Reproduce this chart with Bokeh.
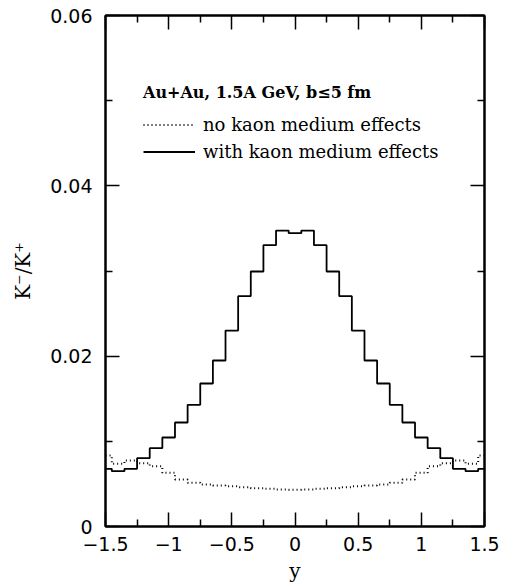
from bokeh.plotting import figure
from bokeh.models import Range1d, FixedTicker, LinearAxis, Legend, CustomLabelingPolicy
from bokeh.embed import file_html
from bokeh.resources import INLINE

# bin centres (rapidity y)
y_bins = [-1.5, -1.4, -1.3, -1.2, -1.1, -1.0, -0.9, -0.8, -0.7, -0.6, -0.5,
          -0.4, -0.3, -0.2, -0.1, 0.0, 0.1, 0.2, 0.3, 0.4, 0.5,
          0.6, 0.7, 0.8, 0.9, 1.0, 1.1, 1.2, 1.3, 1.4, 1.5]

# K-/K+ without kaon medium effects (dotted)
ratio_no_medium = [0.00834, 0.00736, 0.00775, 0.00744, 0.00708, 0.00630, 0.00552,
                   0.00513, 0.00493, 0.00481, 0.00473, 0.00462, 0.00450, 0.00442,
                   0.00434, 0.00431, 0.00434, 0.00442, 0.00450, 0.00462, 0.00473,
                   0.00481, 0.00493, 0.00513, 0.00552, 0.00630, 0.00708, 0.00744,
                   0.00775, 0.00736, 0.00834]

# K-/K+ with kaon medium effects (solid)
ratio_medium = [0.00677, 0.00650, 0.00677, 0.00802, 0.00920, 0.01045, 0.01221,
                0.01429, 0.01679, 0.01949, 0.02301, 0.02704, 0.02994, 0.03303,
                0.03475, 0.03444, 0.03475, 0.03303, 0.02994, 0.02704, 0.02301,
                0.01949, 0.01679, 0.01429, 0.01221, 0.01045, 0.00920, 0.00802,
                0.00677, 0.00650, 0.00677]

x_major = [-1.5, -1.0, -0.5, 0.0, 0.5, 1.0, 1.5]
x_minor = [-1.25, -0.75, -0.25, 0.25, 0.75, 1.25]
y_major = [0.0, 0.02, 0.04, 0.06]
y_minor = [0.01, 0.03, 0.05]
x_label_map = {-1.5: "\u22121.5", -1.0: "\u22121", -0.5: "\u22120.5", 0.0: "0",
               0.5: "0.5", 1.0: "1", 1.5: "1.5"}
y_label_map = {0.0: "0", 0.02: "0.02", 0.04: "0.04", 0.06: "0.06"}

TICK_FONT = "DejaVu Sans"
TEXT_FONT = "DejaVu Serif"

p = figure(width=508, height=586, output_backend="svg", toolbar_location=None,
           x_range=Range1d(-1.5, 1.5), y_range=Range1d(0, 0.06),
           x_axis_location=None, y_axis_location=None,
           min_border_left=105, min_border_right=15, min_border_top=15, min_border_bottom=60)
p.grid.visible = False
p.outline_line_color = "black"
p.outline_line_width = 2
p.background_fill_color = "white"
p.border_fill_color = "white"

no_labels = CustomLabelingPolicy(code="""
const all = [...indices]
for (const i of all) { indices.unset(i) }
return indices
""")


def make_axis(ticks, minor, labels, show_labels, axis_label=None):
    ax = LinearAxis(ticker=FixedTicker(ticks=ticks, minor_ticks=minor))
    ax.major_tick_in = 14
    ax.major_tick_out = 0
    ax.minor_tick_in = 7
    ax.minor_tick_out = 0
    ax.major_tick_line_width = 1.5
    ax.minor_tick_line_width = 1.5
    ax.axis_line_width = 2
    if show_labels:
        ax.major_label_overrides = labels
        ax.major_label_text_font = TICK_FONT
        ax.major_label_text_font_size = "19px"
        ax.major_label_text_color = "black"
    else:
        ax.major_label_policy = no_labels
        ax.major_label_standoff = 0
    if axis_label:
        ax.axis_label = axis_label
        ax.axis_label_text_font = TEXT_FONT
        ax.axis_label_text_font_size = "20px"
        ax.axis_label_text_font_style = "normal"
        ax.axis_label_text_color = "black"
    return ax


xb = make_axis(x_major, x_minor, x_label_map, True, "y")
xb.major_label_standoff = 10
xb.axis_label_standoff = 5
xt = make_axis(x_major, x_minor, x_label_map, False)
yl = make_axis(y_major, y_minor, y_label_map, True, "K\u207b/K\u207a")
yl.major_label_standoff = 13
yl.axis_label_standoff = 12
yr = make_axis(y_major, y_minor, y_label_map, False)
p.add_layout(xb, "below")
p.add_layout(xt, "above")
p.add_layout(yl, "left")
p.add_layout(yr, "right")

r_dot = p.step(y_bins, ratio_no_medium, mode="center", line_color="black",
               line_width=2, line_dash="1 3")
r_sol = p.step(y_bins, ratio_medium, mode="center", line_color="black",
               line_width=1.8)

legend = Legend(items=[("no kaon medium effects", [r_dot]),
                       ("with kaon medium effects", [r_sol])],
                location=(38, 364), title="Au+Au, 1.5A GeV, b\u22645 fm")
legend.title_text_font = TEXT_FONT
legend.title_text_font_style = "bold"
legend.title_text_font_size = "16px"
legend.title_text_color = "black"
legend.title_standoff = 12
legend.label_text_font = TEXT_FONT
legend.label_text_font_size = "18px"
legend.label_text_color = "black"
legend.label_standoff = 8
legend.glyph_width = 52
legend.glyph_height = 21
legend.label_height = 21
legend.spacing = 6
legend.padding = 0
legend.margin = 0
legend.border_line_color = None
legend.background_fill_alpha = 0
p.add_layout(legend)

open("out.html", "w").write(file_html(p, INLINE))
